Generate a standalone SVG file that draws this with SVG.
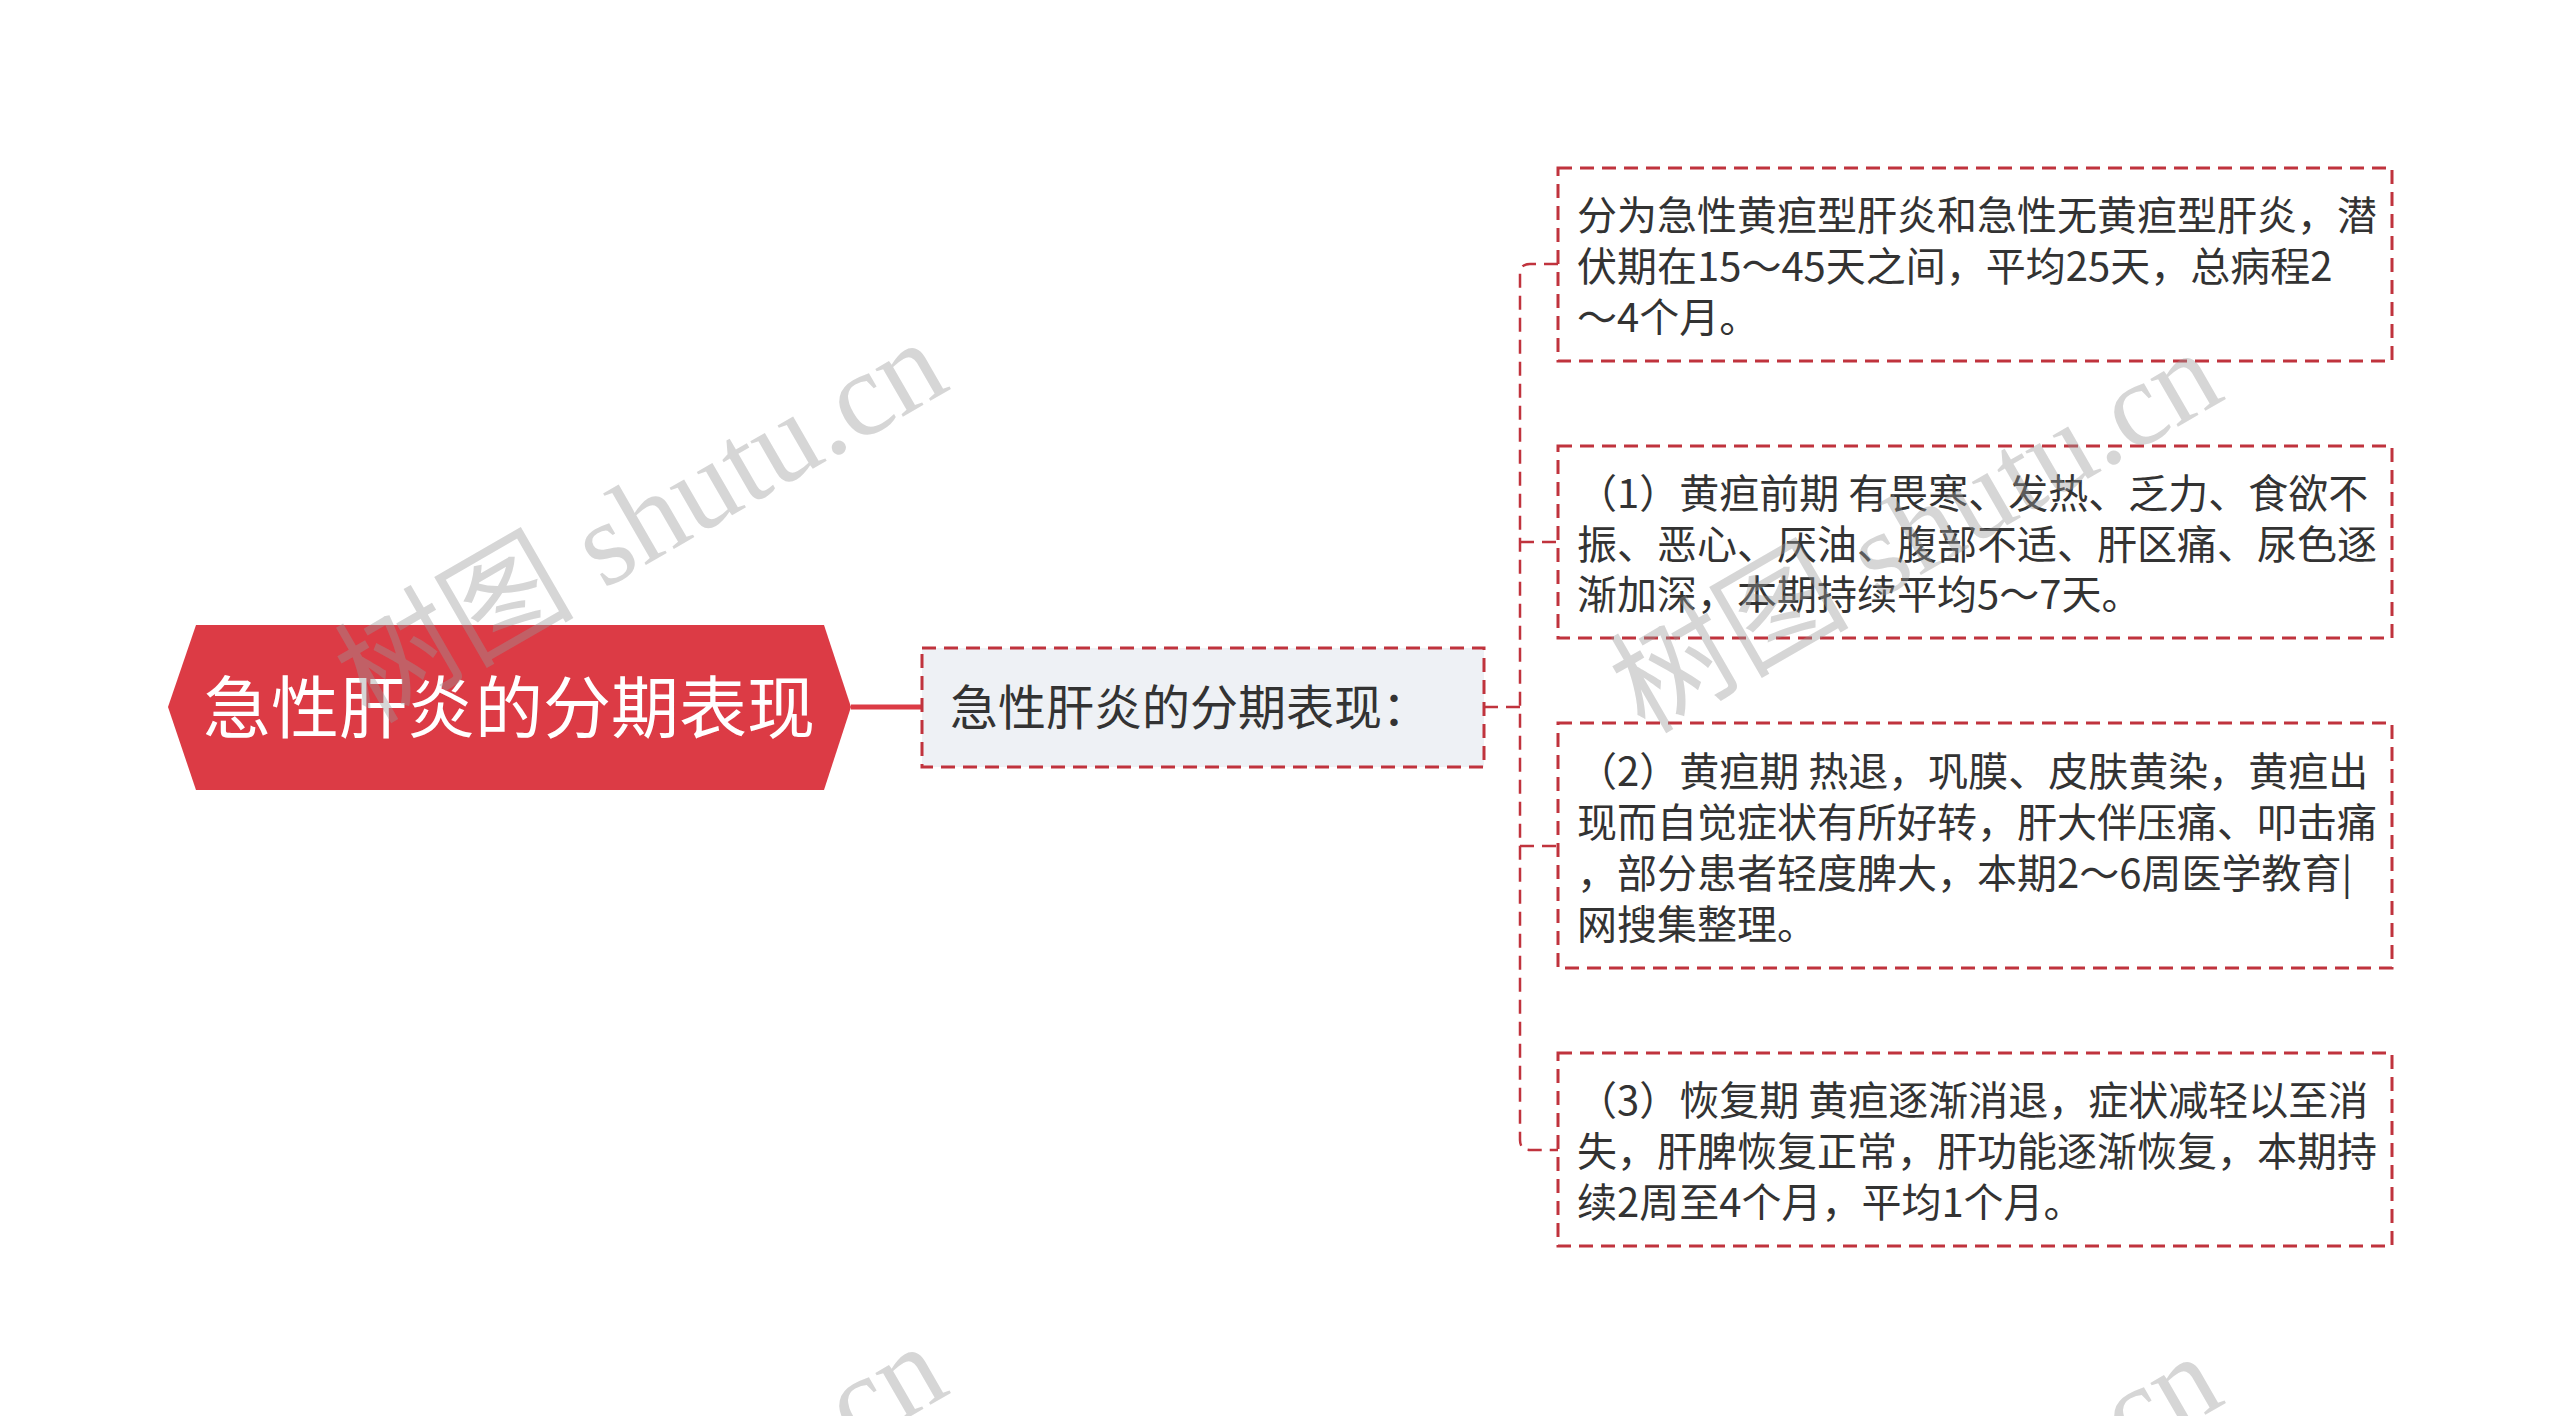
<svg xmlns="http://www.w3.org/2000/svg" width="2560" height="1416" viewBox="0 0 2560 1416">
<style>
.bg{fill:#ffffff}
.root{fill:#dc3b45}
.roottxt{font-family:"Noto Sans CJK SC","Noto Sans",sans-serif;font-size:68px;fill:#ffffff}
.mid{fill:#eef1f5;stroke:#c0333d;stroke-width:3;stroke-dasharray:14 8}
.midtxt{font-family:"Noto Sans CJK SC","Noto Sans",sans-serif;font-size:48px;fill:#333333}
.leaf{fill:#ffffff;stroke:#c0333d;stroke-width:3;stroke-dasharray:14 8}
.leaftxt{font-family:"Noto Sans CJK SC","Noto Sans",sans-serif;font-size:40px;fill:#333333}
.conn{fill:none;stroke:#c0333d;stroke-width:2.5;stroke-dasharray:14 8}
.solid{fill:none;stroke:#dc3b45;stroke-width:5}
.wm{font-family:"Liberation Serif","Noto Sans CJK SC",serif;font-size:120px;fill:#999999;fill-opacity:0.4}
</style>
<rect class="bg" x="0" y="0" width="2560" height="1416"/>
<g id="connectors">
<line class="solid" x1="851" y1="707" x2="922" y2="707"/>
<path class="conn" d="M1484,707 H1520"/>
<path class="conn" d="M1558,264 H1530 Q1520,264 1520,274 V1140 Q1520,1150 1530,1150 H1558"/>
<path class="conn" d="M1520,542 H1558"/>
<path class="conn" d="M1520,846 H1558"/>
</g>
<g id="node-root">
<polygon class="root" points="168,707 196,625 824,625 851,707 824,790 196,790"/>
<text class="roottxt" x="509" y="733" text-anchor="middle">急性肝炎的分期表现</text>
</g>
<g id="node-mid">
<rect class="mid" x="922" y="648" width="562" height="119"/>
<text class="midtxt" x="950" y="725">急性肝炎的分期表现：</text>
</g>
<g id="node-leaf1">
<rect class="leaf" x="1558" y="168" width="834" height="193"/>
<text class="leaftxt" x="1577" y="230">分为急性黄疸型肝炎和急性无黄疸型肝炎，潜</text>
<text class="leaftxt" x="1577" y="281">伏期在15～45天之间，平均25天，总病程2</text>
<text class="leaftxt" x="1577" y="332">～4个月。</text>
</g>
<g id="node-leaf2">
<rect class="leaf" x="1558" y="446" width="834" height="192"/>
<text class="leaftxt" x="1577" y="508">（1）黄疸前期 有畏寒、发热、乏力、食欲不</text>
<text class="leaftxt" x="1577" y="559">振、恶心、厌油、腹部不适、肝区痛、尿色逐</text>
<text class="leaftxt" x="1577" y="609">渐加深，本期持续平均5～7天。</text>
</g>
<g id="node-leaf3">
<rect class="leaf" x="1558" y="723" width="834" height="245"/>
<text class="leaftxt" x="1577" y="786">（2）黄疸期 热退，巩膜、皮肤黄染，黄疸出</text>
<text class="leaftxt" x="1577" y="837">现而自觉症状有所好转，肝大伴压痛、叩击痛</text>
<text class="leaftxt" x="1577" y="888">，部分患者轻度脾大，本期2～6周医学教育|</text>
<text class="leaftxt" x="1577" y="939">网搜集整理。</text>
</g>
<g id="node-leaf4">
<rect class="leaf" x="1558" y="1053" width="834" height="193"/>
<text class="leaftxt" x="1577" y="1115">（3）恢复期 黄疸逐渐消退，症状减轻以至消</text>
<text class="leaftxt" x="1577" y="1166">失，肝脾恢复正常，肝功能逐渐恢复，本期持</text>
<text class="leaftxt" x="1577" y="1217">续2周至4个月，平均1个月。</text>
</g>
<g id="watermarks">
<text class="wm" x="640" y="562" text-anchor="middle" transform="rotate(-30 640 520)">树图 shutu.cn</text>
<text class="wm" x="1915" y="572" text-anchor="middle" transform="rotate(-30 1915 530)">树图 shutu.cn</text>
<text class="wm" x="640" y="1566" text-anchor="middle" transform="rotate(-30 640 1524)">树图 shutu.cn</text>
<text class="wm" x="1915" y="1576" text-anchor="middle" transform="rotate(-30 1915 1534)">树图 shutu.cn</text>
</g>
</svg>
